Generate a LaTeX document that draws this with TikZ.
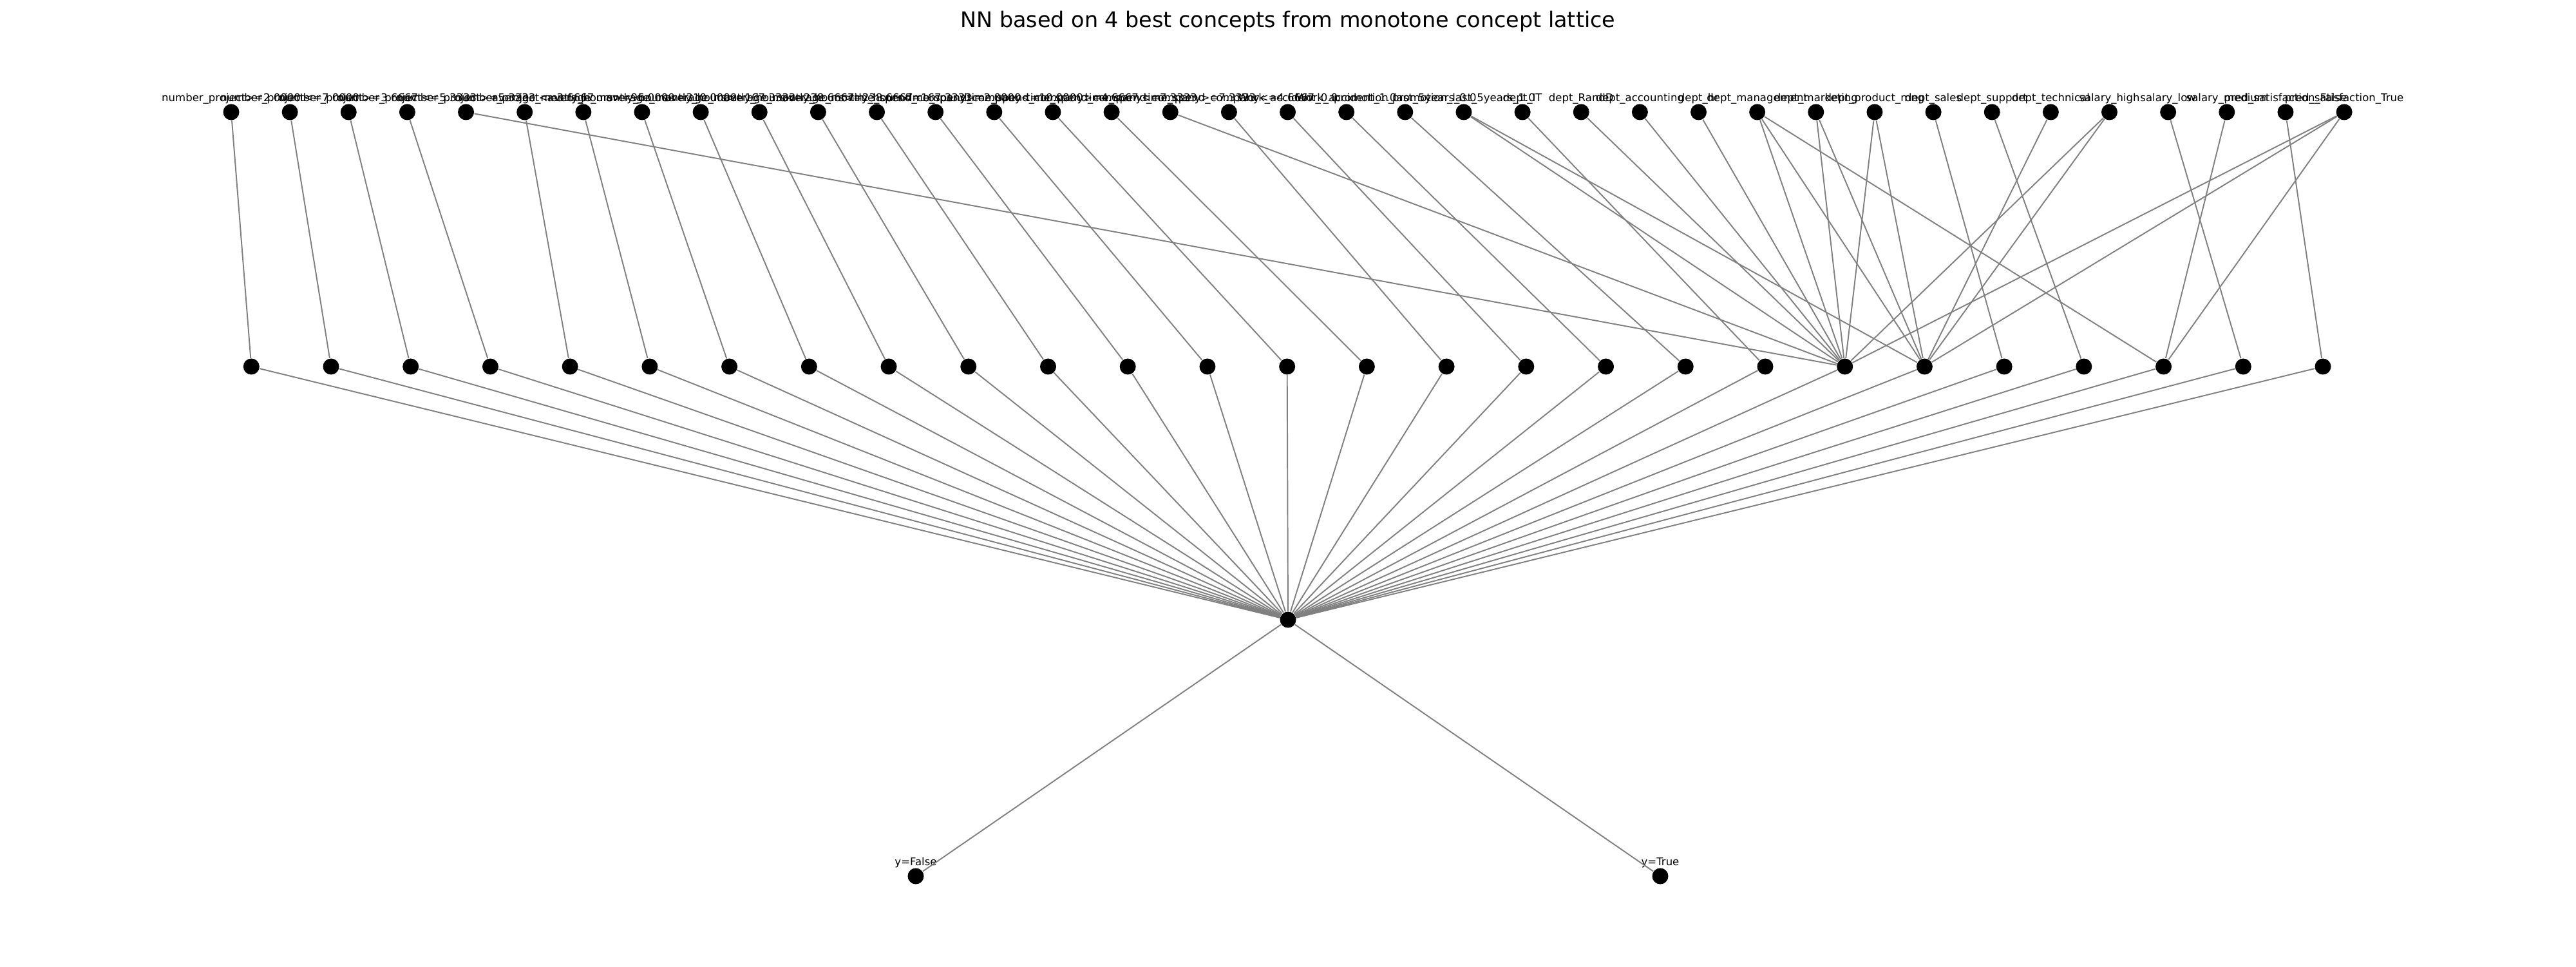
\documentclass[tikz,border=0pt]{standalone}
\usepackage{fontspec}
\setmainfont{DejaVu Sans}
\usepackage{xcolor}
\usepackage{tikz}
\usetikzlibrary{positioning,calc}

\definecolor{edgegray}{RGB}{128,128,128}
\tikzset{
    neuron/.style={circle, fill=black, inner sep=0pt, minimum size=0.25cm},
    feat/.style={font=\fontsize{4.7}{5.6}\selectfont, anchor=base, inner sep=0pt},
    conn/.style={edgegray, line width=0.55pt},
}

\begin{document}
\begin{tikzpicture}
    \useasboundingbox (0,0) rectangle (40,15);

    % Title
    \node[font=\fontsize{9.5}{11}\selectfont, anchor=base] (title) at (20,14.57) {NN based on 4 best concepts from monotone concept lattice};

    % Attributes
    \foreach \txt [count=\i] in {number\_project>=2.0000, number\_project<=7.0000, number\_project>=3.6667, number\_project<=5.3333, number\_project>=5.3333, number\_project<=3.6667,
        average\_montly\_hours>=96.0000, average\_montly\_hours<=310.0000, average\_montly\_hours>=167.3333, average\_montly\_hours<=238.6667, average\_montly\_hours>=238.6667, average\_montly\_hours<=167.3333,
        time\_spend\_company>=2.0000, time\_spend\_company<=10.0000, time\_spend\_company>=4.6667, time\_spend\_company<=7.3333, time\_spend\_company>=7.3333, time\_spend\_company<=4.6667,
        Work\_accident\_0.0, Work\_accident\_1.0, promotion\_last\_5years\_0.0, promotion\_last\_5years\_1.0,
        dept\_IT, dept\_RandD, dept\_accounting, dept\_hr, dept\_management, dept\_marketing, dept\_product\_mng, dept\_sales, dept\_support, dept\_technical,
        salary\_high, salary\_low, salary\_medium, pred\_satisfaction\_False, pred\_satisfaction\_True} {
        \node[neuron] (t\i) at ({3.59+0.9114*(\i-1)},13.26) {};
        \node[feat] (tl\i) at ({3.59+0.9114*(\i-1)},13.42) {\txt};
    }

    % Concepts
    \foreach \j in {1,...,27}
        \node[neuron] (m\j) at ({3.903+1.2372*(\j-1)},9.31) {};

    % Hidden and targets
    \node[neuron] (h) at (20,5.38) {};
    \node[neuron] (yf) at (14.22,1.40) {};
    \node[neuron] (yt) at (25.78,1.40) {};
    \node[feat] (yfl) at (14.22,1.57) {y=False};
    \node[feat] (ytl) at (25.78,1.57) {y=True};

    % Attribute -> concept
    \foreach \a/\b in {1/1, 2/2, 3/3, 4/4, 5/21, 6/5, 7/6, 8/7, 9/8, 10/9, 11/10, 12/11, 13/12, 14/13, 15/14, 16/15,
        17/21, 18/16, 19/17, 20/18, 21/19, 22/21, 22/22, 23/20, 24/21, 25/21, 26/21, 27/21, 27/22, 27/25,
        28/21, 28/22, 29/21, 29/22, 30/23, 31/24, 32/22, 33/21, 33/22, 34/26, 35/25, 36/27, 37/21, 37/22, 37/25}
        \draw[conn] (t\a) -- (m\b);

    % Concept -> hidden
    \foreach \j in {1,...,27}
        \draw[conn] (m\j) -- (h);

    % Hidden -> targets
    \draw[conn] (h) -- (yf);
    \draw[conn] (h) -- (yt);
\end{tikzpicture}
\end{document}
